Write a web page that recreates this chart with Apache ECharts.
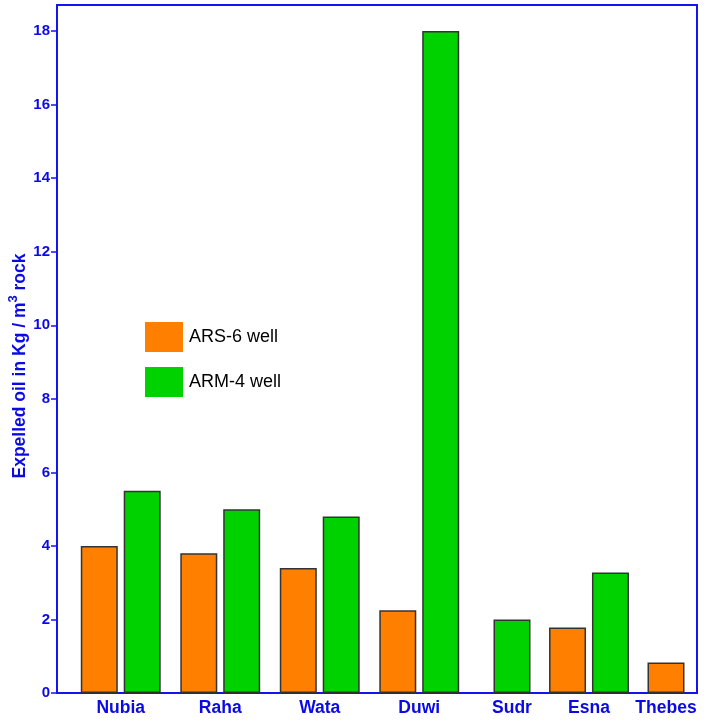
<!DOCTYPE html>
<html>
<head>
<meta charset="utf-8">
<script src="https://cdn.jsdelivr.net/npm/echarts@6/dist/echarts.min.js"></script>
<style>
html,body{margin:0;padding:0;background:#fff;}
#chart{width:706px;height:721px;}
</style>
</head>
<body>
<div id="chart"></div>
<script>
const categories = ['Nubia', 'Raha', 'Wata', 'Duwi', 'Sudr', 'Esna', 'Thebes'];
const ars6 = [4.0, 3.8, 3.4, 2.25, null, 1.78, 0.83];
const arm4 = [5.5, 5.0, 4.8, 18.0, 2.0, 3.28, null];
const yTicks = [0, 2, 4, 6, 8, 10, 12, 14, 16, 18];

const FONT = '"Liberation Sans", Arial, sans-serif';
const BLUE = '#1414F0';
const TXT = '#0A0AE6';
const ORANGE = '#FF8000';
const GREEN = '#00D200';
const EDGE = '#333333';
const YMAX = 18.71;
const TOP = 5, BOTTOM = 28;

// the original spaces its groups unevenly: two blocks of evenly spaced groups
const segments = [
  {from: 0, to: 4, left: 71, width: 398},
  {from: 4, to: 7, left: 473.5, width: 231}
];

const chart = echarts.init(document.getElementById('chart'), null, {renderer: 'canvas'});
const barStyle = c => ({color: c, borderColor: EDGE, borderWidth: 1.5});

const grids = [{left: 57, right: 9, top: TOP, bottom: BOTTOM, show: true, borderColor: BLUE, borderWidth: 2,
  backgroundColor: 'transparent', containLabel: false, outerBoundsMode: 'none'}];
const xAxes = [{gridIndex: 0, type: 'category', data: categories, show: false}];
const yAxes = [
  {gridIndex: 0, type: 'value', min: 0, max: YMAX, interval: 2, position: 'left',
   axisLine: {show: true, lineStyle: {color: BLUE, width: 2}},
   axisTick: {show: true, length: 6, customValues: yTicks, lineStyle: {color: BLUE, width: 1.5}},
   splitLine: {show: false},
   axisLabel: {color: TXT, fontWeight: 'bold', fontSize: 15, fontFamily: FONT, margin: 7, customValues: yTicks}},
  {gridIndex: 0, type: 'value', min: 0, max: YMAX, position: 'left', offset: 0,
   axisLine: {show: false}, axisTick: {show: false}, axisLabel: {show: false}, splitLine: {show: false},
   name: 'Expelled oil in Kg / m{sup|3} rock',
   nameLocation: 'middle', nameGap: 23,
   nameTextStyle: {color: TXT, fontWeight: 'bold', fontSize: 17.5, fontFamily: FONT, padding: [0, 34, 0, 0],
     rich: {sup: {color: TXT, fontWeight: 'bold', fontSize: 13, fontFamily: FONT, verticalAlign: 'bottom', padding: [0, 0, 14, 0]}}}}
];
const series = [];

segments.forEach(seg => {
  const gi = grids.length;
  grids.push({left: seg.left, width: seg.width, top: TOP, bottom: BOTTOM, containLabel: false, outerBoundsMode: 'none'});
  const cats = categories.slice(seg.from, seg.to);
  const a = ars6.slice(seg.from, seg.to);
  const b = arm4.slice(seg.from, seg.to);
  const xPaired = xAxes.length;
  xAxes.push({gridIndex: gi, type: 'category', data: cats,
    axisLine: {show: false}, axisTick: {show: false},
    axisLabel: {color: TXT, fontWeight: 'bold', fontSize: 17.5, fontFamily: FONT, margin: 6, interval: 0}});
  const xSolo = xAxes.length;
  xAxes.push({gridIndex: gi, type: 'category', data: cats, show: false});
  const yi = yAxes.length;
  yAxes.push({gridIndex: gi, type: 'value', min: 0, max: YMAX, show: false, splitLine: {show: false}});

  const pairedA = a.map((v, i) => (v != null && b[i] != null) ? v : null);
  const pairedB = b.map((v, i) => (v != null && a[i] != null) ? v : null);
  const soloA = a.map((v, i) => (v != null && b[i] == null) ? v : null);
  const soloB = b.map((v, i) => (v != null && a[i] == null) ? v : null);

  series.push(
    {name: 'ARS-6 well', type: 'bar', xAxisIndex: xPaired, yAxisIndex: yi, data: pairedA,
     barWidth: 37, barGap: '16%', itemStyle: barStyle(ORANGE)},
    {name: 'ARM-4 well', type: 'bar', xAxisIndex: xPaired, yAxisIndex: yi, data: pairedB,
     barWidth: 37, barGap: '16%', itemStyle: barStyle(GREEN)},
    {name: 'ARS-6 well', type: 'bar', xAxisIndex: xSolo, yAxisIndex: yi, data: soloA, stack: 'solo' + gi,
     barWidth: 37, itemStyle: barStyle(ORANGE)},
    {name: 'ARM-4 well', type: 'bar', xAxisIndex: xSolo, yAxisIndex: yi, data: soloB, stack: 'solo' + gi,
     barWidth: 37, itemStyle: barStyle(GREEN)}
  );
});

chart.setOption({
  animation: false,
  backgroundColor: '#fff',
  grid: grids,
  legend: {
    data: ['ARS-6 well', 'ARM-4 well'],
    orient: 'vertical',
    left: 145, top: 322, padding: 0,
    itemWidth: 38, itemHeight: 30, itemGap: 15,
    icon: 'rect',
    selectedMode: false,
    itemStyle: {borderWidth: 0},
    textStyle: {fontSize: 18, color: '#000', fontFamily: FONT, padding: [0, 0, 0, 1]}
  },
  xAxis: xAxes,
  yAxis: yAxes,
  series: series
});
</script>
</body>
</html>
